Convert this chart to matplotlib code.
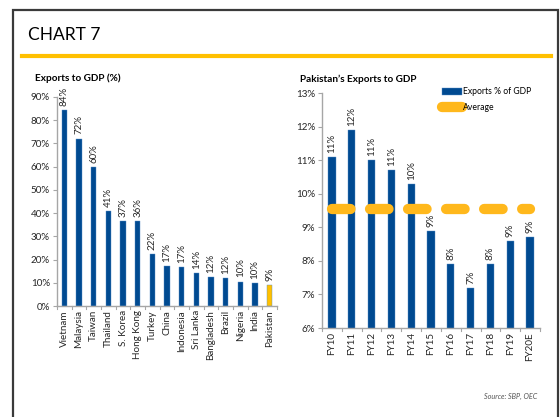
import numpy as np
import matplotlib
matplotlib.use("Agg")
import matplotlib.pyplot as plt
from matplotlib.patches import Rectangle
from matplotlib.lines import Line2D
from matplotlib.ticker import PercentFormatter

plt.rcParams['font.family'] = ['Lato', 'DejaVu Sans']

# --- data ---
countries = ["Vietnam", "Malaysia", "Taiwan", "Thailand", "S. Korea", "Hong Kong",
             "Turkey", "China", "Indonesia", "Sri Lanka", "Bangladesh", "Brazil",
             "Nigeria", "India", "Pakistan"]
exports_gdp = [84.2, 72.1, 59.9, 40.8, 36.7, 36.5, 22.4, 17.1, 16.9, 14.0, 12.4,
               12.0, 10.5, 10.0, 9.0]

years = ["FY10", "FY11", "FY12", "FY13", "FY14", "FY15", "FY16", "FY17", "FY18",
         "FY19", "FY20E"]
pk_exports = [11.1, 11.9, 11.0, 10.7, 10.3, 8.9, 7.9, 7.2, 7.9, 8.6, 8.7]
pk_average = 9.55

BLUE = "#004A91"
EDGE = "#5B8FC9"
YEL = "#FFC000"
AVG = "#FFB81C"
GRID = "#A6A6A6"
TXT = "#262626"

W, H = 560, 417
fig = plt.figure(figsize=(W / 100, H / 100), dpi=100)


def px_axes(l, t, r, b):
    return fig.add_axes([l / W, 1 - b / H, (r - l) / W, (b - t) / H])


def style(ax):
    for s in ("top", "right"):
        ax.spines[s].set_visible(False)
    for s in ("left", "bottom"):
        ax.spines[s].set_color(GRID)
        ax.spines[s].set_linewidth(1.0)
    ax.tick_params(axis="y", colors=GRID, labelcolor=TXT, labelsize=7.1,
                   length=3, width=0.8, pad=2)
    ax.tick_params(axis="x", colors=GRID, labelcolor=TXT, labelsize=7.1,
                   length=0, pad=3, labelrotation=90)
    ax.yaxis.set_major_formatter(PercentFormatter(decimals=0))


def cat_ticks(ax, n):
    # Excel-style tick marks between categories
    for k in range(n + 1):
        ax.plot([k - 0.5, k - 0.5], [0, -0.012], transform=ax.get_xaxis_transform(),
                color=GRID, lw=0.8, clip_on=False)


# --- frame / header (frame runs off the bottom edge) ---
fig.patches.append(Rectangle((13 / W, -0.05), (558 - 13) / W, 1.05 - 10 / H,
                             transform=fig.transFigure, fill=False,
                             edgecolor="#3A3A3A", linewidth=1.6))
fig.add_artist(Line2D([22 / W, 551 / W], [1 - 55.5 / H] * 2, color=YEL, lw=3.0))
fig.text(28 / W, 1 - 35 / H, "CHART 7", fontsize=12.5, va="center", ha="left")
fig.text(35 / W, 1 - 78 / H, "Exports to GDP (%)", fontsize=7.2, fontweight="bold",
         va="center", ha="left")
fig.text(300 / W, 1 - 79 / H, "Pakistan\u2019s Exports to GDP", fontsize=7.2,
         fontweight="bold", va="center", ha="left")
fig.text(537 / W, 1 - 396 / H, "Source: SBP, OEC", fontsize=5.2, style="italic",
         color="#555555", va="center", ha="right")

# --- left chart ---
ax1 = px_axes(57, 97, 277, 306)
x1 = np.arange(len(countries))
colors1 = [YEL if c == "Pakistan" else BLUE for c in countries]
ax1.bar(x1, exports_gdp, width=0.36, color=colors1, edgecolor=EDGE, linewidth=0.3)
ax1.set_xlim(-0.5, len(countries) - 0.5)
ax1.set_ylim(0, 90)
ax1.set_yticks(np.arange(0, 91, 10))
ax1.set_xticks(x1)
ax1.set_xticklabels(countries)
style(ax1)
cat_ticks(ax1, len(countries))
for xi, v in zip(x1, exports_gdp):
    ax1.annotate(f"{v:.0f}%", (xi, v), xytext=(0, 3), textcoords="offset points",
                 rotation=90, ha="center", va="bottom", fontsize=7.0, color=TXT)

# --- right chart ---
ax2 = px_axes(322, 93.3, 540, 328)
x2 = np.arange(len(years))
bars = ax2.bar(x2, pk_exports, width=0.37, color=BLUE, edgecolor=EDGE, linewidth=0.3,
               label="Exports % of GDP", zorder=2)
avg_line, = ax2.plot(x2, [pk_average] * len(x2), color=AVG, lw=7.4,
                     dash_capstyle="round", solid_capstyle="round", zorder=3,
                     label="Average")
avg_line.set_dashes((1.8, 1.9))
ax2.set_xlim(-0.5, len(years) - 0.5)
ax2.set_ylim(6, 13)
ax2.set_yticks(np.arange(6, 14, 1))
ax2.set_xticks(x2)
ax2.set_xticklabels(years)
style(ax2)
cat_ticks(ax2, len(years))
for xi, v in zip(x2, pk_exports):
    ax2.annotate(f"{v:.0f}%", (xi, v), xytext=(0, 3), textcoords="offset points",
                 rotation=90, ha="center", va="bottom", fontsize=7.0, color=TXT)

h_avg = Line2D([], [], color=AVG, lw=7.4, solid_capstyle="round")
ax2.legend([bars, h_avg], ["Exports % of GDP", "Average"], loc="upper left",
           bbox_to_anchor=(0.55, 1.025), frameon=False, fontsize=6.2,
           handlelength=2.3, handleheight=0.75, handletextpad=0.1, labelspacing=0.75,
           borderpad=0, borderaxespad=0)

fig.savefig("out.png", dpi=100)
